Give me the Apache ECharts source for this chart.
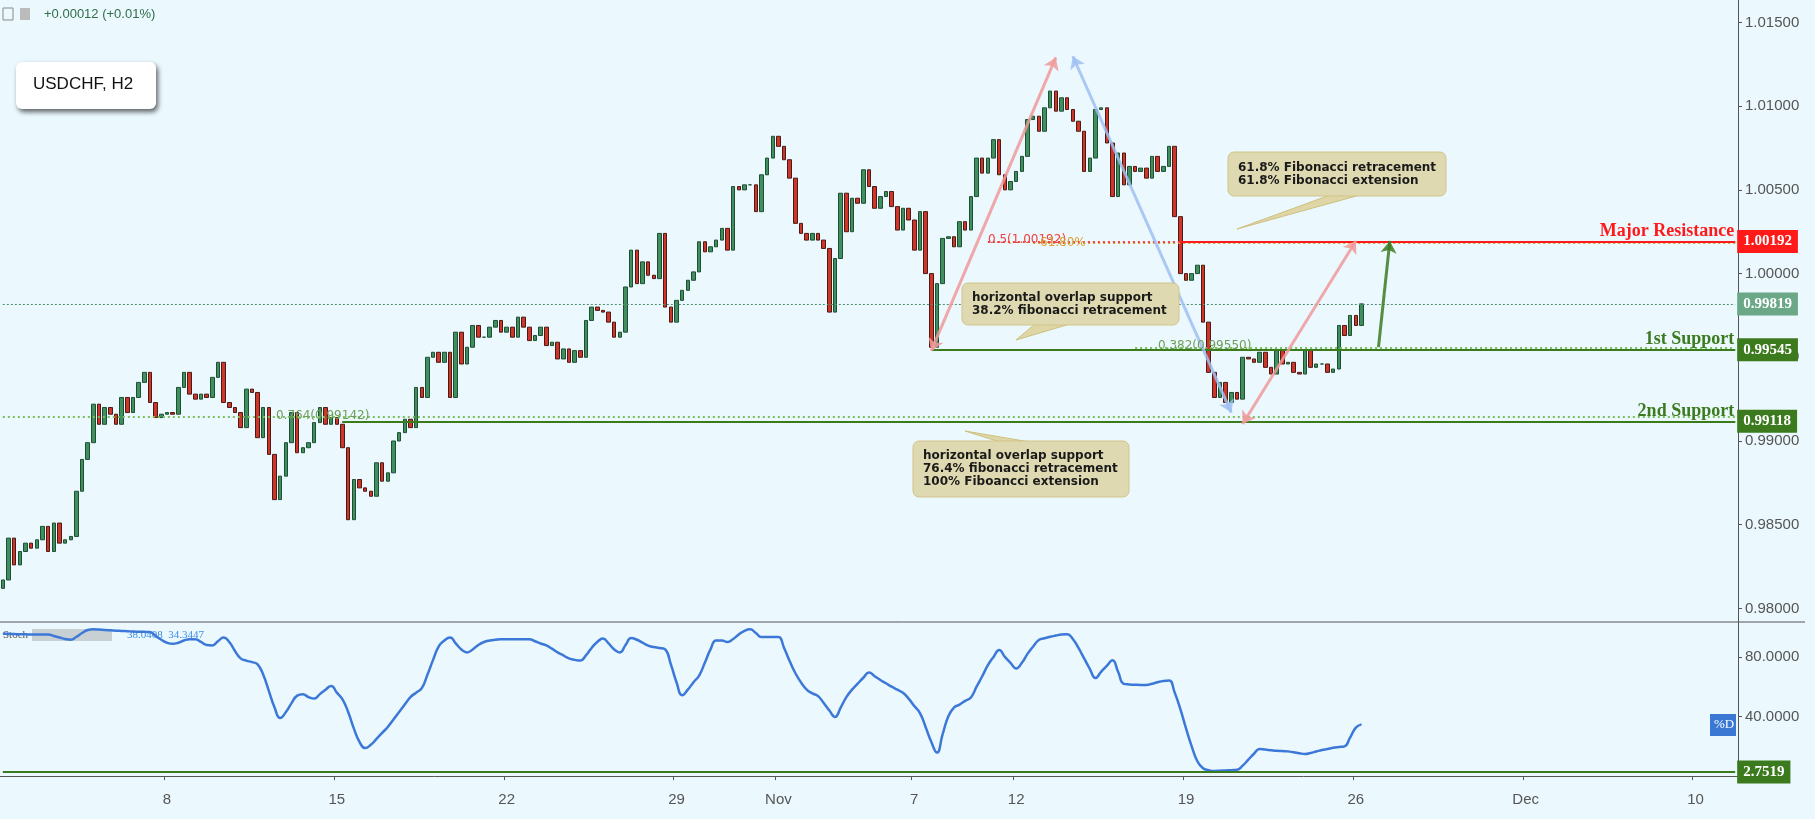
<!DOCTYPE html>
<html>
<head>
<meta charset="utf-8">
<script src="https://cdn.jsdelivr.net/npm/echarts@6/dist/echarts.min.js"></script>
<style>
  html, body { margin: 0; padding: 0; background: #ebf8fe; }
  #chart { width: 1815px; height: 819px; }
</style>
</head>
<body>
<div id="chart"></div>
<script>
// H4 closes, first bar Mon Oct 1 2018 04:00
var closes = [
  0.9817, 0.9842, 0.9826, 0.9834, 0.9839, 0.9836, 0.9841, 0.9849, 0.9834, 0.9851,
  0.9839, 0.9841, 0.9843, 0.9870, 0.9889, 0.9899, 0.9922, 0.9910, 0.9920, 0.9916,
  0.9910, 0.9926, 0.9917, 0.9926, 0.9935, 0.9941, 0.9923, 0.9914, 0.9916, 0.9917,
  0.9916, 0.9932, 0.9941, 0.9928, 0.9925, 0.9928, 0.9926, 0.9938, 0.9947, 0.9923,
  0.9920, 0.9917, 0.9908, 0.9931, 0.9929, 0.9902, 0.9920, 0.9892, 0.9865, 0.9879,
  0.9899, 0.9917, 0.9893, 0.9896, 0.9899, 0.9911, 0.9920, 0.9910, 0.9914, 0.9910,
  0.9896, 0.9853, 0.9877, 0.9872, 0.9870, 0.9867, 0.9887, 0.9876, 0.9881, 0.9900,
  0.9905, 0.9913, 0.9908, 0.9932, 0.9926, 0.9950, 0.9953, 0.9947, 0.9953, 0.9926,
  0.9965, 0.9946, 0.9956, 0.9969, 0.9962, 0.9962, 0.9968, 0.9972, 0.9965, 0.9968,
  0.9962, 0.9974, 0.9968, 0.9960, 0.9963, 0.9968, 0.9957, 0.9959, 0.9949, 0.9955,
  0.9947, 0.9954, 0.9950, 0.9972, 0.9980, 0.9978, 0.9977, 0.9971, 0.9962, 0.9965,
  0.9992, 1.0014, 0.9994, 1.0007, 0.9999, 0.9997, 1.0024, 0.9980, 0.9971, 0.9984,
  0.9990, 0.9996, 1.0001, 1.0019, 1.0013, 1.0016, 1.0020, 1.0027, 1.0014, 1.0052,
  1.0050, 1.0053, 1.0053, 1.0037, 1.0059, 1.0069, 1.0082, 1.0076, 1.0068, 1.0057,
  1.0030, 1.0024, 1.0020, 1.0024, 1.0020, 1.0015, 0.9977, 1.0009, 1.0048, 1.0025,
  1.0045, 1.0042, 1.0062, 1.0052, 1.0039, 1.0046, 1.0049, 1.0040, 1.0026, 1.0039,
  1.0032, 1.0014, 1.0037, 1.0000, 0.9956, 0.9994, 1.0021, 1.0022, 1.0016, 1.0031,
  1.0026, 1.0046, 1.0069, 1.0060, 1.0069, 1.0080, 1.0059, 1.0050, 1.0055, 1.0061,
  1.0070, 1.0092, 1.0094, 1.0085, 1.0099, 1.0109, 1.0097, 1.0105, 1.0098, 1.0091,
  1.0085, 1.0061, 1.0069, 1.0098, 1.0099, 1.0078, 1.0046, 1.0072, 1.0053, 1.0064,
  1.0061, 1.0063, 1.0057, 1.0070, 1.0061, 1.0064, 1.0076, 1.0034, 1.0000, 0.9996,
  1.0000, 1.0005, 0.9971, 0.9941, 0.9926, 0.9935, 0.9923, 0.9929, 0.9925, 0.9950,
  0.9949, 0.9947, 0.9953, 0.9944, 0.9940, 0.9954, 0.9946, 0.9947, 0.9941, 0.9940,
  0.9954, 0.9944, 0.9946, 0.9946, 0.9941, 0.9943, 0.9969, 0.9963, 0.9975, 0.9969,
  0.99819
];
var firstOpen = 0.9812;

// stochastic %D per bar
var stochD = [
  95.6, 95.5, 95.3, 95.2, 95.1, 95, 95, 95, 95, 94,
  93, 92, 91.5, 93.5, 96, 98, 98.5, 98.3, 98, 97.8,
  97.6, 97.4, 97.2, 97, 96.9, 96.8, 96.7, 94, 91.5, 89.5,
  88.8, 89.5, 91, 91.8, 91.8, 90, 88, 87.7, 90.5, 93,
  90, 84, 79, 77.5, 76.5, 75, 68, 57, 46, 39,
  43, 49, 54, 55, 53, 52, 55, 58, 60.5, 56,
  51.5, 43, 32, 23, 18.8, 21, 25, 29, 33, 38,
  43, 48, 53, 56, 59, 68, 78, 87, 91, 93,
  89, 85, 83, 85, 88, 90, 91, 91.5, 91.8, 91.8,
  91.8, 91.8, 91.8, 91.8, 90.5, 89, 87.7, 85.5, 83, 81,
  79, 78, 77.5, 81, 86, 90, 92.3, 89, 85, 83,
  88, 92.7, 91.5, 89.5, 87.5, 86.6, 86, 85, 75, 63,
  54.3, 58, 63, 67.5, 76, 85, 91, 91, 90, 92,
  95, 97.5, 98.5, 96, 93.3, 93.3, 93.3, 93.3, 86, 77,
  69, 62.8, 58, 55.5, 53.7, 49, 44, 39.7, 46, 53,
  58, 62, 66, 69.5, 67, 64.5, 62.3, 60, 58, 55.9,
  52, 47, 42.3, 33, 23, 15.8, 28, 40, 46, 48,
  50.5, 52.8, 60, 67, 74.4, 80, 84.6, 80, 76, 72.2,
  76, 82, 87, 91.3, 92.5, 93.5, 94.3, 95, 95.2, 92,
  86, 79, 72, 65.8, 70, 74, 77.7, 70, 61.9, 61.5,
  61.3, 61.2, 61.2, 62, 63, 63.8, 64.2, 56, 45, 32,
  20, 10, 5.3, 4, 3.5, 3.6, 3.8, 4, 4.2, 7,
  11, 15, 18.2, 17.8, 17.4, 17, 16.8, 16.6, 16, 15.4,
  14.8, 15.5, 16.5, 17.5, 18.2, 19, 19.5, 20, 26, 32.5,
  34.7
];

var priceTicks = [0.98, 0.985, 0.99, 0.995, 1.0, 1.005, 1.01, 1.015];
var stochTicks = [40, 80];
var tickDates = ['10-08', '10-15', '10-22', '10-29', '11-01', '11-07', '11-12', '11-19', '11-26', '12-03', '12-10'];
var tickTexts = ['8', '15', '22', '29', 'Nov', '7', '12', '19', '26', 'Dec', '10'];

var lastPrice = 0.99819, resistance = 1.00192, support1 = 0.99545, support2 = 0.99118;
var fib50 = 1.00192, fib618 = 1.00184, fib382 = 0.99555, fib764 = 0.99142, stochLow = 2.7519;

// category axis: H4 slots, weekdays only
var slots = 307;
var cats = [];
var t = Date.UTC(2018, 9, 1, 4);
while (cats.length < slots) {
  var d = new Date(t);
  var wd = d.getUTCDay();
  if (wd !== 0 && wd !== 6) {
    var mm = ('0' + (d.getUTCMonth() + 1)).slice(-2);
    var dd = ('0' + d.getUTCDate()).slice(-2);
    var hh = ('0' + d.getUTCHours()).slice(-2);
    cats.push(mm + '-' + dd + ' ' + hh);
  }
  t += 4 * 3600 * 1000;
}
var tickMap = {};
tickDates.forEach(function (k, i) { tickMap[k + ' 00'] = tickTexts[i]; });
function isTick(idx, val) { return tickMap.hasOwnProperty(val); }

var ohlc = closes.map(function (c, i) {
  var o = i === 0 ? firstOpen : closes[i - 1];
  return [o, c, Math.min(o, c), Math.max(o, c)];
});

var END = slots - 1;
function hl(v, a, b, style, label) {
  return [
    { coord: [a, v], symbol: 'none' },
    { coord: [b, v], symbol: 'none', lineStyle: style, label: label || { show: false } }
  ];
}
function boxLabel(txt, bg) {
  return { show: true, position: 'end', distance: 2, formatter: txt, backgroundColor: bg,
    color: '#fff', padding: [5, 6, 3, 6], fontSize: 15, fontWeight: 'bold', fontFamily: 'Liberation Serif' };
}
function nameLabel(txt, col) {
  return { show: true, position: 'insideEndTop', distance: 1, formatter: txt, color: col,
    fontSize: 18, fontWeight: 'bold', fontFamily: 'Liberation Serif' };
}
function arrow(a, va, b, vb, col, both) {
  return [
    { coord: [a, va], symbol: both ? 'arrow' : 'none', symbolSize: 12 },
    { coord: [b, vb], symbol: 'arrow', symbolSize: 12, lineStyle: { color: col, width: 3, type: 'solid', opacity: 0.85 } }
  ];
}

var green = '#3c7a1e';
var priceLines = [
  hl(lastPrice, 0, END, { color: '#4f8f6f', width: 1, type: [2, 2] }, boxLabel('0.99819', '#6aa888')),
  hl(fib764, 0, END, { color: '#7cbf5c', width: 2, type: [2, 3] }),
  hl(support2, 60, END, { color: green, width: 2, type: 'solid' }, boxLabel('0.99118', green)),
  hl(support2, 60, END, { color: green, width: 2, type: 'solid' }, nameLabel('2nd Support', green)),
  hl(fib382, 200, END, { color: '#7cbf5c', width: 2, type: [2, 3] }),
  hl(support1, 164, END, { color: green, width: 2, type: 'solid' }, boxLabel('0.99545', green)),
  hl(support1, 164, END, { color: green, width: 2, type: 'solid' }, nameLabel('1st Support', green)),
  hl(fib618, 182, END, { color: '#d9a13a', width: 2, type: [2, 3] }),
  hl(fib50, 174, 208, { color: '#f04040', width: 2, type: [2, 3] }),
  hl(resistance, 208, END, { color: '#ff1a1a', width: 2, type: 'solid' }, boxLabel('1.00192', '#ff1a1a')),
  hl(resistance, 208, END, { color: '#ff1a1a', width: 2, type: 'solid' }, nameLabel('Major Resistance', '#ff1a1a')),
  arrow(164, 0.99538, 186, 1.01291, '#f09a9a', true),
  arrow(217, 0.99170, 189, 1.01298, '#9fc0f2', true),
  arrow(219, 0.99102, 239, 1.00195, '#f09a9a', true),
  arrow(243, 0.99561, 245, 1.00195, '#3c7a1e', false)
];

function callout(x, y, w, h, lines, tail) {
  return {
    type: 'group', children: [
      { type: 'polygon', shape: { points: tail }, style: { fill: '#ded6a6', stroke: '#cfc07e' }, z: 10 },
      { type: 'rect', shape: { x: x, y: y, width: w, height: h, r: 6 }, style: { fill: '#ded9b0', stroke: '#d2c489', lineWidth: 1 }, z: 11 },
      { type: 'text', x: x + 10, y: y + (h - lines.length * 13) / 2, z: 12,
        style: { text: lines.join('\n'), font: 'bold 12px "DejaVu Sans"', fill: '#1a1a1a', lineHeight: 13 } }
    ]
  };
}

var chart = echarts.init(document.getElementById('chart'));
chart.setOption({
  backgroundColor: '#ebf8fe',
  animation: false,
  grid: [
    { left: 0, top: 0, width: 1738, height: 622 },
    { left: 0, top: 622, width: 1738, height: 158 }
  ],
  xAxis: [
    { type: 'category', gridIndex: 0, data: cats, boundaryGap: true,
      axisLine: { show: false }, axisTick: { show: false }, axisLabel: { show: false }, splitLine: { show: false } },
    { type: 'category', gridIndex: 1, data: cats, boundaryGap: true,
      axisLine: { show: true, lineStyle: { color: '#555' } },
      axisTick: { show: true, interval: isTick, length: 4, lineStyle: { color: '#555' } },
      axisLabel: { interval: isTick, formatter: function (v) { return tickMap[v]; },
        color: '#555', fontSize: 15, fontFamily: 'Liberation Sans Narrow, Liberation Sans', margin: 12 },
      splitLine: { show: false } }
  ],
  yAxis: [
    { type: 'value', gridIndex: 0, position: 'right', min: 0.97919, max: 1.01634,
      axisLine: { show: true, lineStyle: { color: '#555' } },
      axisTick: { show: true, length: 4, customValues: priceTicks, lineStyle: { color: '#555' } },
      axisLabel: { customValues: priceTicks, formatter: function (v) { return v.toFixed(5); },
        color: '#555', fontSize: 15, fontFamily: 'Liberation Sans Narrow, Liberation Sans', margin: 7 },
      splitLine: { show: false } },
    { type: 'value', gridIndex: 1, position: 'right', min: -2.6, max: 103.4,
      axisLine: { show: true, lineStyle: { color: '#555' } },
      axisTick: { show: true, length: 4, customValues: stochTicks, lineStyle: { color: '#555' } },
      axisLabel: { customValues: stochTicks, formatter: function (v) { return v.toFixed(4); },
        color: '#555', fontSize: 15, fontFamily: 'Liberation Sans Narrow, Liberation Sans', margin: 7 },
      splitLine: { show: false } }
  ],
  series: [
    {
      type: 'candlestick', xAxisIndex: 0, yAxisIndex: 0, data: ohlc, barWidth: 4,
      itemStyle: { color: '#3f8f5f', color0: '#d0352a', borderColor: '#1f4f33', borderColor0: '#4a1a14', borderWidth: 1 },
      markLine: { silent: true, symbol: ['none', 'none'], animation: false, data: priceLines }
    },
    {
      type: 'line', xAxisIndex: 1, yAxisIndex: 1, data: stochD, showSymbol: false, smooth: true,
      lineStyle: { color: '#3b78d8', width: 2.5 },
      markLine: { silent: true, symbol: ['none', 'none'], animation: false,
        data: [hl(stochLow, 0, END, { color: '#3c7a1e', width: 2, type: 'solid' }, boxLabel('2.7519', '#3c7a1e'))] }
    }
  ],
  graphic: [
    { type: 'line', shape: { x1: 0, y1: 622, x2: 1805, y2: 622 }, style: { stroke: '#555', lineWidth: 1 }, z: 20 },
    { type: 'rect', shape: { x: 3, y: 8, width: 10, height: 12 }, style: { fill: 'none', stroke: '#888' } },
    { type: 'rect', shape: { x: 20, y: 8, width: 10, height: 12 }, style: { fill: '#bbb' } },
    { type: 'text', x: 44, y: 8, style: { text: '+0.00012 (+0.01%)', font: '13px "Liberation Sans Narrow", "Liberation Sans"', fill: '#2f6e47' } },
    { type: 'rect', shape: { x: 16, y: 62, width: 140, height: 47, r: 6 },
      style: { fill: '#fff', shadowBlur: 5, shadowOffsetX: 2, shadowOffsetY: 3, shadowColor: 'rgba(0,0,0,0.6)' } },
    { type: 'text', x: 33, y: 76, style: { text: 'USDCHF, H2', font: '17px "Liberation Sans Narrow", "Liberation Sans"', fill: '#111' } },
    callout(1228, 152, 218, 44, ['61.8% Fibonacci retracement', '61.8% Fibonacci extension'],
      [[1330, 195], [1360, 195], [1237, 229]]),
    callout(962, 283, 217, 42, ['horizontal overlap support', '38.2% fibonacci retracement'],
      [[1035, 324], [1070, 324], [1016, 340]]),
    callout(913, 441, 216, 56, ['horizontal overlap support', '76.4% fibonacci retracement', '100% Fiboancci extension'],
      [[1000, 442], [1030, 442], [965, 431]]),
    { type: 'text', x: 988, y: 234, z: 15, style: { text: '0.5(1.00192)', font: '12px "DejaVu Sans"', fill: '#f04040' } },
    { type: 'text', x: 1040, y: 237, z: 15, style: { text: '61.80%', font: '12px "DejaVu Sans"', fill: '#d9a13a' } },
    { type: 'text', x: 1158, y: 340, z: 15, style: { text: '0.382(0.99550)', font: '12px "DejaVu Sans"', fill: '#6f9f5a' } },
    { type: 'text', x: 276, y: 410, z: 15, style: { text: '0.764(0.99142)', font: '12px "DejaVu Sans"', fill: '#6f9f5a' } },
    { type: 'text', x: 3, y: 630, style: { text: 'Stoch', font: '11px "Liberation Sans Narrow"', fill: '#555' } },
    { type: 'rect', shape: { x: 32, y: 629, width: 80, height: 12 }, style: { fill: '#c8d0d4' } },
    { type: 'text', x: 127, y: 630, style: { text: '38.0408  34.3447', font: '11px "Liberation Sans Narrow"', fill: '#3b8ee0' } },
    { type: 'rect', shape: { x: 1710, y: 714, width: 26, height: 22 }, style: { fill: '#3a78d4' } },
    { type: 'text', x: 1714, y: 718, style: { text: '%D', font: '13px "Liberation Sans Narrow"', fill: '#fff' } }
  ]
});
</script>
</body>
</html>
